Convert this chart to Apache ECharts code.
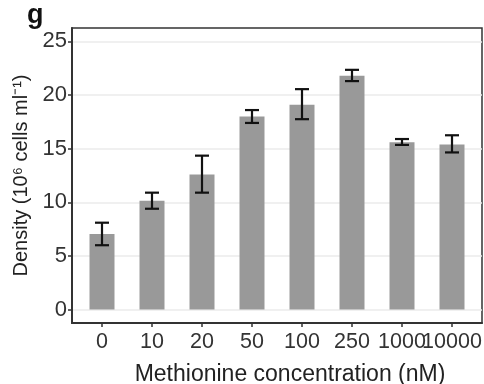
<!DOCTYPE html>
<html>
<head>
<meta charset="utf-8">
<script src="https://cdn.jsdelivr.net/npm/echarts@6/dist/echarts.min.js"></script>
<style>html,body{margin:0;padding:0;background:#fff}#c{width:484px;height:384px}</style>
</head>
<body>
<div id="c"></div>
<script>
const categories = ['0', '10', '20', '50', '100', '250', '1000', '10000'];
const density = [7.05, 10.15, 12.6, 18.0, 19.1, 21.8, 15.6, 15.4];
const errLow = [6.0, 9.4, 10.9, 17.4, 17.75, 21.3, 15.35, 14.65];
const errHigh = [8.1, 10.9, 14.35, 18.6, 20.55, 22.35, 15.9, 16.25];
const yTicks = [0, 5, 10, 15, 20, 25];

const idx = categories.map((c, i) => i);
// last category listed first so that ECharts' min/max overlap check
// does not hide the touching "1000"/"10000" labels
const labelIdx = [idx.length - 1].concat(idx.slice(0, -1));
const barData = density.map((v, i) => [i, v]);
const errData = density.map((v, i) => [i, errLow[i], errHigh[i]]);
const FONT = '"Liberation Sans", Arial, sans-serif';

const chart = echarts.init(document.getElementById('c'));
chart.setOption({
  animation: false,
  title: {
    text: 'g', left: 22, top: -3,
    textStyle: { fontFamily: FONT, fontSize: 27, fontWeight: 'bold', color: '#111' }
  },
  grid: {
    left: 72, right: 2, top: 28, bottom: 61,
    containLabel: false, outerBoundsMode: 'none',
    show: true, borderColor: '#333', borderWidth: 1.5, backgroundColor: '#fff'
  },
  xAxis: {
    type: 'value', min: -0.6, max: 7.6,
    name: 'Methionine concentration (nM)', nameLocation: 'middle', nameGap: 40,
    nameTextStyle: { fontFamily: FONT, fontSize: 23, color: '#222', padding: [0, 0, 0, 26] },
    axisLine: { show: true, onZero: false, lineStyle: { color: '#333', width: 2 } },
    axisTick: { show: true, customValues: idx, length: 4, lineStyle: { color: '#333', width: 1.5 } },
    axisLabel: {
      customValues: labelIdx, interval: 0, margin: 8, hideOverlap: false,
      fontFamily: FONT, fontSize: 21.5, color: '#333',
      formatter: v => categories[Math.round(v)]
    },
    splitLine: { show: false }
  },
  yAxis: {
    type: 'value', min: -1.25, max: 26.25,
    name: 'Density (10⁶ cells ml⁻¹)', nameLocation: 'middle', nameGap: 29,
    nameTextStyle: { fontFamily: FONT, fontSize: 20, color: '#222' },
    axisLine: { show: true, onZero: false, lineStyle: { color: '#333', width: 2 } },
    axisTick: { show: true, customValues: yTicks, length: 4, lineStyle: { color: '#333', width: 1.5 } },
    axisLabel: { customValues: yTicks, margin: 5, fontFamily: FONT, fontSize: 22, color: '#333' },
    splitLine: { show: true, lineStyle: { color: '#ebebeb', width: 1.5 } }
  },
  series: [
    {
      type: 'bar', data: barData, barWidth: 25,
      itemStyle: { color: '#999999' }
    },
    {
      type: 'custom', data: errData, z: 10,
      renderItem: function (params, api) {
        const x = api.value(0);
        const lo = api.coord([x, api.value(1)]);
        const hi = api.coord([x, api.value(2)]);
        const hw = 7;
        const st = { stroke: '#111', lineWidth: 2.2 };
        return {
          type: 'group',
          children: [
            { type: 'line', shape: { x1: lo[0], y1: lo[1], x2: hi[0], y2: hi[1] }, style: st },
            { type: 'line', shape: { x1: lo[0] - hw, y1: lo[1], x2: lo[0] + hw, y2: lo[1] }, style: st },
            { type: 'line', shape: { x1: hi[0] - hw, y1: hi[1], x2: hi[0] + hw, y2: hi[1] }, style: st }
          ]
        };
      }
    }
  ]
});
</script>
</body>
</html>
